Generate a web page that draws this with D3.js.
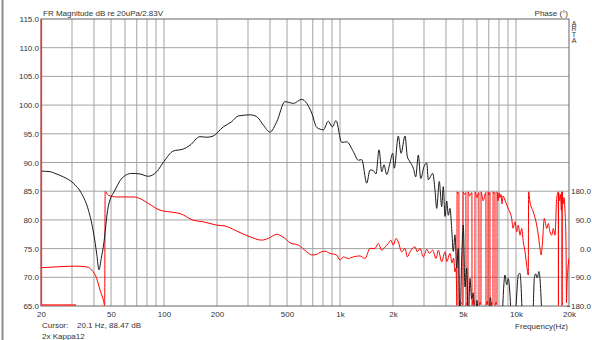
<!DOCTYPE html>
<html>
<head>
<meta charset="utf-8">
<script src="https://cdn.jsdelivr.net/npm/d3@7/dist/d3.min.js"></script>
<style>
  html, body { margin: 0; padding: 0; background: #fff; }
  svg { display: block; font-family: "Liberation Sans", Arial, sans-serif; }
</style>
</head>
<body>
<script>
// Frequency response of the 2x Kappa12 system: SPL magnitude and phase.
const magFreq = [20, 22.5, 24, 26.8, 30.5, 34, 37.2, 39.8, 41.5, 42.7, 44, 45.2, 48.2, 52.7, 58.7, 65.5, 73, 81.4, 90.9, 100,
  112.9, 128.7, 140.5, 160, 175, 190, 217, 242, 264, 308, 336, 367, 400, 437, 487, 543, 606, 647, 691, 738,
  804, 858, 904, 949, 1022, 1092, 1190, 1271, 1329, 1418, 1481, 1545, 1601, 1666, 1726, 1778, 1841, 1922, 1992, 2034,
  2144, 2221, 2341, 2413, 2500, 2610, 2692, 2786, 2875, 3001, 3109, 3175, 3362, 3465, 3543, 3665, 3782, 3862, 3950, 4038,
  4123, 4216, 4310, 4401, 4500, 4601, 4698, 4804, 4912, 5016, 5129, 5245, 5355, 5476, 5600, 5718, 5846, 5999, 6159, 6520,
  6998, 7150, 7400, 8046, 8658, 8852, 9040, 9244, 9427, 9740, 10088, 10302, 10534, 10673, 10884, 11394, 12004, 12535, 12698, 12933,
  13207, 13502, 13680, 13981, 14598, 16651, 18991, 20000];
const magDb = [88.5, 88.4, 88.1, 87.5, 86.4, 84.6, 81.7, 77.7, 74.0, 71.3, 73.3, 75.3, 82.3, 85.2, 87.5, 88.1, 88.0, 87.6, 88.4, 90.2,
  92.0, 92.35, 93.0, 94.5, 94.4, 94.6, 96.2, 97.1, 98.1, 98.3, 98.0, 96.5, 95.3, 97.1, 100.6, 100.3, 101.0, 100.3, 98.6, 96.1,
  95.7, 97.2, 96.2, 97.3, 93.5, 93.6, 91.9, 90.4, 90.5, 86.4, 88.7, 88.6, 88.0, 92.2, 88.4, 89.6, 87.9, 89.9, 91.6, 89.0,
  94.6, 91.6, 94.6, 91.0, 90.1, 89.0, 87.5, 91.3, 87.2, 89.3, 89.9, 87.0, 88.1, 85.2, 82.0, 86.7, 82.3, 85.8, 80.6, 83.3,
  80.8, 82.0, 78.5, 74.5, 77.4, 71.6, 75.0, 62, 73.2, 79.1, 68.3, 71.6, 62, 69.8, 66.2, 67.3, 60, 66, 58, 55,
  62, 66.5, 60, 55, 70.4, 68.7, 69.8, 66.9, 62, 58, 66.9, 70.4, 70.7, 68.7, 62, 55, 58, 65.0, 69.8, 70.6,
  69.9, 71.0, 69.8, 64.5, 57, 55, 60, 58];

const phaseFreq = [20, 25, 31.6, 34.7, 37.3, 38.8, 41.4, 43.3, 45.2, 46.0, 46.3, 48.2, 53.8, 66.9, 73, 81.4, 94.9, 108.1, 123.3, 146.7,
  167.2, 199.2, 222.1, 258.8, 308, 358.9, 391.4, 436.8, 486.8, 519.9, 579.6, 646.9, 690.7, 737.6, 769.6, 821.8, 877, 957.2, 999.5, 1044,
  1114, 1190, 1299, 1387, 1481, 1580, 1650, 1726, 1801, 1881, 1941, 2008, 2081, 2144, 2241, 2341, 2413, 2500, 2668, 2750,
  2847, 2975, 3109, 3217, 3362, 3511, 3618, 3782, 3950, 4038, 4216, 4327, 4420, 4500, 4560, 4600, 4615, 4625, 4680, 4735,
  4745, 4800, 4900, 4990, 5000, 5100, 5190, 5200, 5270, 5330, 5340, 5450, 5615, 5625, 5700, 5840, 5850, 6000, 6150, 6165,
  6250, 6320, 6330, 6500, 6745, 6755, 6850, 6925, 6935, 7030, 7110, 7120, 7250, 7395, 7405, 7500, 7590, 7600, 7700, 7795,
  7805, 7900, 8004, 8110, 8220, 8325, 8434, 8658, 9004, 9451,
  9613, 9869, 10088, 10302, 10534, 10772, 10997, 11247, 11500, 11742, 11790, 12004, 12535, 13107, 13385, 13680, 13863, 14100, 14476, 14937,
  15253, 15596, 15948, 16285, 16651, 17022, 17386, 17420, 17450, 17700, 17900, 18100, 18250, 18270, 18290, 18500, 18732, 18991, 19237, 19350,
  19478, 19737, 20000];
const phaseDeg = [-60, -57, -55, -56, -59, -67, -93, -130, -161, -178, 179, 167.5, 162, 162, 157, 141.5, 120.5, 115, 110, 89,
  84, 73.6, 71, 55, 37, 26.6, 32, 44.5, 32, 18, 11, -10, -20, -18, -12, -8, -15, -20, -36, -26,
  -31, -26, -23, -31, 0.6, 0.6, 16, -5, 5.6, 16, 26.6, 11, 32, 21, -10, 0.6, -26, -10, 5.6, -10,
  0.6, -26, -2, -15, -5, -31, -5, -41, -10, -41, -15, -45, -30, -73, -60, -140, -178, 178, 172, 176,
  -178, -165, -172, -176, 178, 170, 176, -178, -170, -176, 178, 165, 176, -178, -160, -176, 178, 160, 176, -178,
  -168, -176, 178, 150, 176, -178, -165, -176, 178, 168, 176, -178, -170, -176, 178, 172, 176, -178, -168, -176,
  178, 150, 175, 160, 170, 140, 165, 152, 127, 94.5,
  64, 84, 52.6, 73.6, 42, 63, 21, -10, -52, -83, 178, 146, 115, 73.6, 42, 0.6, -20, 11, 94.5, 63,
  79, 52.6, 42, 63, 42, 157, 178, -178, 175, 150, 170, 120, 178, -178, 178, 140, 160, 115, 10, -170,
  -114, -60, -30];

const dbTicks = [65, 70, 75, 80, 85, 90, 95, 100, 105, 110, 115];
const phaseTicks = [-180, -90, 0, 90, 180];
const freqTicks = [20, 50, 100, 200, 500, 1000, 2000, 5000, 10000, 20000];
const freqTickLabels = ["20", "50", "100", "200", "500", "1k", "2k", "5k", "10k", "20k"];

const cursorFreq = 20.1;
const cursorDb = 88.47;

const W = 592, H = 340;
const plot = { left: 41, right: 569, top: 19, bottom: 306 };

const svg = d3.select("body").append("svg").attr("width", W).attr("height", H);

const x = d3.scaleLog().domain([20, 20000]).range([plot.left, plot.right]);
const y = d3.scaleLinear().domain([65, 115]).range([plot.bottom, plot.top]);
const yPhase = d3.scaleLinear().domain([-180, 180]).range([plot.bottom, y(85)]);

// window edge on the left
svg.append("line").attr("x1", 2.5).attr("x2", 2.5).attr("y1", 0).attr("y2", H)
  .attr("stroke", "#8c8c8c").attr("stroke-width", 2);

// grid: every 1..9 multiple per decade, every 5 dB
const gridFreqs = [];
for (let dec = 10; dec <= 10000; dec *= 10) {
  for (let m = 1; m <= 9; m++) {
    const f = m * dec;
    if (f > 20 && f < 20000) gridFreqs.push(f);
  }
}
const grid = svg.append("g").attr("stroke", "#a3a3a3").attr("stroke-width", 1);
grid.selectAll("line.v").data(gridFreqs).join("line").attr("class", "v")
  .attr("x1", d => x(d)).attr("x2", d => x(d)).attr("y1", plot.top).attr("y2", plot.bottom);
grid.selectAll("line.h").data(dbTicks.slice(1, -1)).join("line").attr("class", "h")
  .attr("x1", plot.left).attr("x2", plot.right).attr("y1", d => y(d)).attr("y2", d => y(d));

// frame
svg.append("rect").attr("x", plot.left).attr("y", plot.top)
  .attr("width", plot.right - plot.left).attr("height", plot.bottom - plot.top)
  .attr("fill", "none").attr("stroke", "#666").attr("stroke-width", 1);

// curves, clipped to the plot area
svg.append("clipPath").attr("id", "plotClip").append("rect")
  .attr("x", plot.left).attr("y", plot.top)
  .attr("width", plot.right - plot.left).attr("height", plot.bottom - plot.top);
const curves = svg.append("g").attr("clip-path", "url(#plotClip)");

const phasePts = phaseFreq.map((f, i) => [f, phaseDeg[i]]);
const magPts = magFreq.map((f, i) => [f, magDb[i]]);

curves.append("path").datum(phasePts)
  .attr("fill", "none").attr("stroke", "#ff0000").attr("stroke-width", 1)
  .attr("d", d3.line().x(d => x(d[0])).y(d => yPhase(d[1])).curve(d3.curveMonotoneX));

curves.append("path").datum(magPts)
  .attr("fill", "none").attr("stroke", "#1a1a1a").attr("stroke-width", 1)
  .attr("d", d3.line().x(d => x(d[0])).y(d => y(d[1])).curve(d3.curveMonotoneX));

// cursor line and its marker on the bottom edge
svg.append("line").attr("x1", x(cursorFreq)).attr("x2", x(cursorFreq))
  .attr("y1", plot.top).attr("y2", plot.bottom)
  .attr("stroke", "#ff3030").attr("stroke-width", 1.5);
svg.append("line").attr("x1", x(20)).attr("x2", x(31.6))
  .attr("y1", plot.bottom - 1).attr("y2", plot.bottom - 1)
  .attr("stroke", "#ff3030").attr("stroke-width", 1.6);

// axes
const fontSize = 8;
const textColor = "#333";

const yAxis = svg.append("g").attr("transform", `translate(${plot.left},0)`)
  .call(d3.axisLeft(y).tickValues(dbTicks).tickFormat(d3.format(".1f")).tickSize(0).tickPadding(2));
const pAxis = svg.append("g").attr("transform", `translate(${plot.right},0)`)
  .call(d3.axisRight(yPhase).tickValues(phaseTicks).tickFormat(d3.format(".1f")).tickSize(0));
pAxis.selectAll("text").attr("text-anchor", "end").attr("x", 591 - plot.right);
const xAxis = svg.append("g").attr("transform", `translate(0,${plot.bottom})`)
  .call(d3.axisBottom(x).tickValues(freqTicks).tickFormat((d, i) => freqTickLabels[i]).tickSize(0).tickPadding(5));

[yAxis, pAxis, xAxis].forEach(g => {
  g.select(".domain").remove();
  g.selectAll("text").attr("fill", textColor).style("font-size", fontSize + "px")
    .style("font-family", '"Liberation Sans", Arial, sans-serif');
});

// titles and captions
const txt = (s, tx, ty, anchor) => svg.append("text").attr("x", tx).attr("y", ty)
  .attr("text-anchor", anchor || "start").attr("fill", textColor)
  .style("font-size", fontSize + "px").text(s);

txt("FR Magnitude dB re 20uPa/2.83V", 43, 15.5);
txt("Phase (°)", 568, 15.5, "end");
txt("Frequency(Hz)", 568, 328.5, "end");
txt("Cursor:", 42, 328);
txt(`${cursorFreq} Hz, ${cursorDb} dB`, 77, 328);
txt("2x Kappa12", 42, 338.5);

// program mark, written top to bottom with upright letters
svg.append("text").attr("x", 574).attr("y", 19.5).attr("fill", textColor)
  .style("font-size", "7px")
  .style("writing-mode", "vertical-rl")
  .style("text-orientation", "upright")
  .style("letter-spacing", "-1.3px")
  .text("ARTA");
</script>
</body>
</html>
